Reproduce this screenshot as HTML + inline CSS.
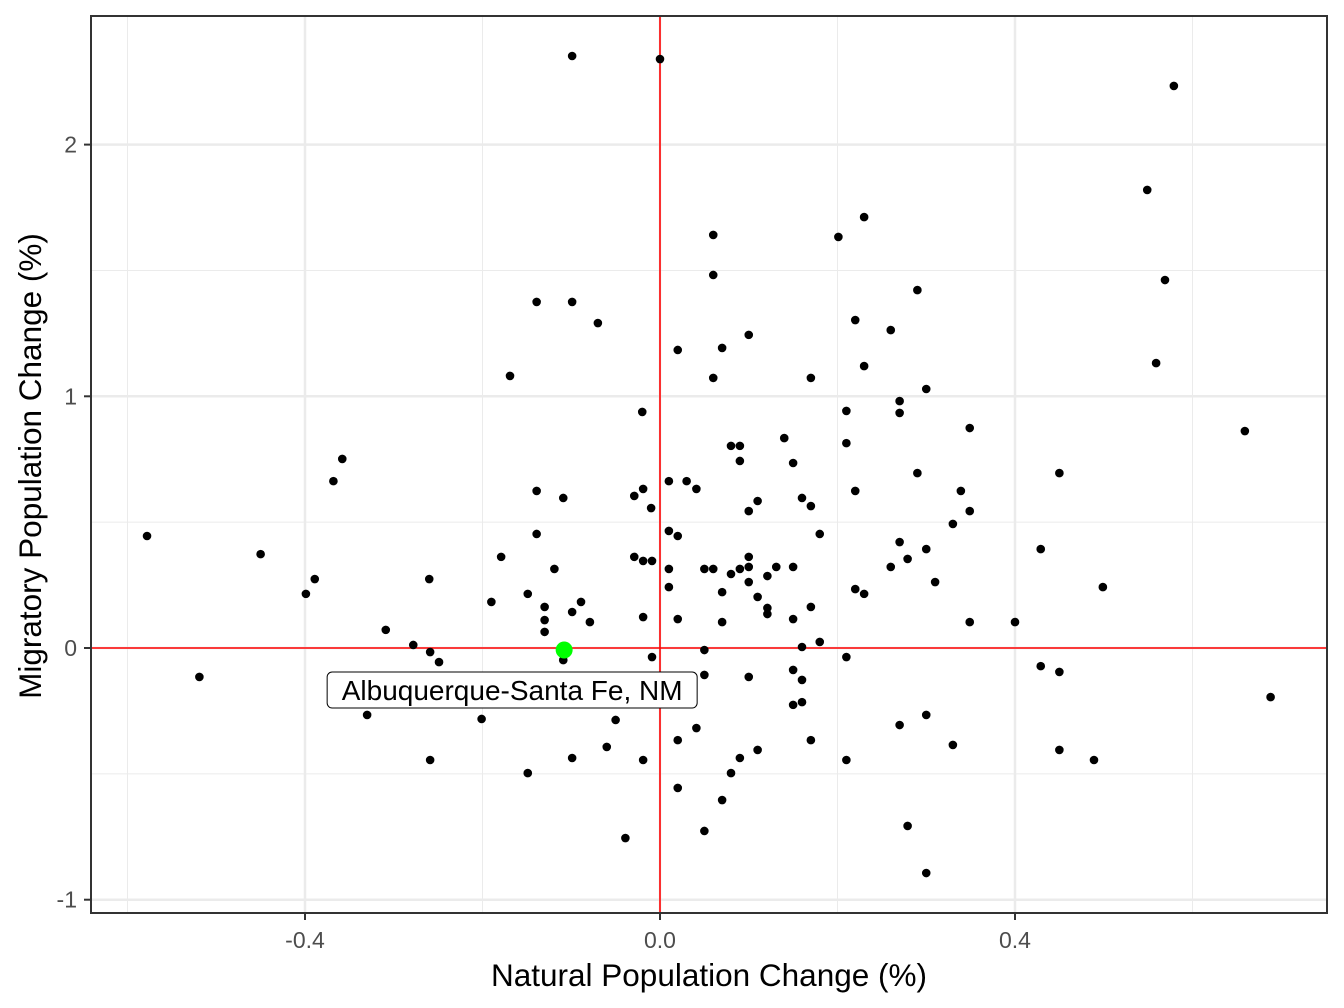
<!DOCTYPE html>
<html><head><meta charset="utf-8"><style>
body{margin:0;background:#fff;}
svg{display:block;font-family:"Liberation Sans",sans-serif;}
</style></head><body>
<svg id="chart" width="1344" height="1008" viewBox="0 0 1344 1008" xmlns="http://www.w3.org/2000/svg">
<rect x="0" y="0" width="1344" height="1008" fill="#fff"/>
<g id="grid"></g>
<g id="refs"></g>
<g id="pts"></g>
<g id="hl"></g>
<rect x="91" y="16" width="1236" height="897" fill="none" stroke="#333" stroke-width="2"/>
<g id="axes"></g>
<text x="709" y="986" font-size="31.5" text-anchor="middle" fill="#000">Natural Population Change (%)</text>
<text transform="translate(41,466) rotate(-90)" font-size="31.5" text-anchor="middle" fill="#000">Migratory Population Change (%)</text>
</svg>
<script>
const xTicks=[-0.4,0.0,0.4];
const xTickLabels=["-0.4","0.0","0.4"];
const xMinor=[-0.6,-0.2,0.2,0.6];
const yTicks=[-1,0,1,2];
const yTickLabels=["-1","0","1","2"];
const yMinor=[-0.5,0.5,1.5];
const xs=[-0.578,-0.519,-0.450,-0.399,-0.389,-0.368,-0.358,-0.330,-0.309,-0.278,-0.260,-0.259,-0.249,-0.259,-0.201,-0.190,-0.179,-0.169,-0.149,-0.149,-0.139,-0.139,-0.139,-0.130,-0.130,-0.130,-0.119,-0.109,-0.109,-0.099,-0.099,-0.099,-0.099,-0.089,-0.079,-0.070,-0.060,-0.050,-0.039,-0.029,-0.029,-0.020,-0.019,-0.019,-0.019,-0.019,-0.010,-0.009,-0.009,0,0.010,0.010,0.010,0.010,0.020,0.020,0.020,0.020,0.020,0.030,0.041,0.041,0.050,0.050,0.050,0.050,0.060,0.060,0.060,0.060,0.070,0.070,0.070,0.070,0.080,0.080,0.080,0.090,0.090,0.090,0.090,0.100,0.100,0.100,0.100,0.100,0.100,0.110,0.110,0.110,0.121,0.121,0.121,0.131,0.140,0.150,0.150,0.150,0.150,0.150,0.160,0.160,0.160,0.160,0.170,0.170,0.170,0.170,0.180,0.180,0.201,0.210,0.210,0.210,0.210,0.220,0.220,0.220,0.230,0.230,0.230,0.260,0.260,0.270,0.270,0.270,0.270,0.279,0.279,0.290,0.290,0.300,0.300,0.300,0.300,0.310,0.330,0.330,0.339,0.349,0.349,0.349,0.400,0.429,0.429,0.450,0.450,0.450,0.489,0.499,0.549,0.559,0.569,0.579,0.659,0.688];
const ys=[0.445,-0.115,0.373,0.215,0.274,0.663,0.751,-0.266,0.072,0.012,0.274,-0.016,-0.056,-0.445,-0.282,0.183,0.362,1.081,0.215,-0.497,1.375,0.624,0.453,0.163,0.111,0.064,0.314,0.596,-0.048,2.352,1.375,0.143,-0.437,0.183,0.103,1.291,-0.393,-0.286,-0.755,0.604,0.362,0.938,0.632,0.346,0.123,-0.445,0.556,0.346,-0.036,2.340,0.663,0.465,0.314,0.242,1.184,0.445,0.115,-0.366,-0.556,0.663,0.632,-0.318,0.314,-0.008,-0.107,-0.727,1.641,1.482,1.073,0.314,1.192,0.222,0.103,-0.604,0.803,0.294,-0.497,0.803,0.743,0.314,-0.437,1.244,0.544,0.362,0.322,0.262,-0.115,0.584,0.203,-0.405,0.286,0.159,0.135,0.322,0.834,0.735,0.322,0.115,-0.087,-0.226,0.596,0.004,-0.127,-0.215,1.073,0.564,0.163,-0.366,0.453,0.024,1.633,0.942,0.814,-0.036,-0.445,1.303,0.624,0.234,1.712,1.120,0.215,1.263,0.322,0.981,0.934,0.421,-0.306,0.354,-0.707,1.422,0.695,1.029,0.393,-0.266,-0.894,0.262,0.493,-0.385,0.624,0.874,0.544,0.103,0.103,0.393,-0.072,0.695,-0.095,-0.405,-0.445,0.242,1.820,1.132,1.462,2.233,0.862,-0.195];
const hlX=[-0.108];
const hlY=[-0.008];
const hlLabel=["Albuquerque-Santa Fe, NM"];

const X=v=>660+887.5*v;
const Y=v=>648-251.7*v;
const NS="http://www.w3.org/2000/svg";
function mk(tag,attrs,parent){const e=document.createElementNS(NS,tag);for(const k in attrs)e.setAttribute(k,attrs[k]);parent.appendChild(e);return e;}
const grid=document.getElementById('grid'),refs=document.getElementById('refs'),pts=document.getElementById('pts'),hl=document.getElementById('hl'),axes=document.getElementById('axes');

xMinor.forEach(v=>{const l=mk('line',{x1:X(v),x2:X(v),y1:16,y2:913,stroke:'#ebebeb','stroke-width':1},grid);

});
yMinor.forEach(v=>{const l=mk('line',{x1:91,x2:1327,y1:Y(v),y2:Y(v),stroke:'#ebebeb','stroke-width':1},grid);

});
xTicks.forEach((v,i)=>{const l=mk('line',{x1:X(v),x2:X(v),y1:16,y2:913,stroke:'#ebebeb','stroke-width':2.5},grid);


const t=mk('line',{x1:X(v),x2:X(v),y1:913,y2:920,stroke:'#333','stroke-width':2},axes);


const tx=mk('text',{x:X(v),y:948,'font-size':23,'text-anchor':'middle',fill:'#4d4d4d'},axes);
tx.textContent=xTickLabels[i];

});
yTicks.forEach((v,i)=>{const l=mk('line',{x1:91,x2:1327,y1:Y(v),y2:Y(v),stroke:'#ebebeb','stroke-width':2.5},grid);


const t=mk('line',{x1:84,x2:91,y1:Y(v),y2:Y(v),stroke:'#333','stroke-width':2},axes);


const tx=mk('text',{x:77,y:Y(v)+8,'font-size':23,'text-anchor':'end',fill:'#4d4d4d'},axes);
tx.textContent=yTickLabels[i];

});

const vr=mk('line',{x1:X(0),x2:X(0),y1:16,y2:913,stroke:'#ff0000','stroke-width':1.6},refs);


const hr=mk('line',{x1:91,x2:1327,y1:Y(0),y2:Y(0),stroke:'#ff0000','stroke-width':1.6},refs);



xs.forEach((v,i)=>{const c=mk('circle',{cx:X(v),cy:Y(ys[i]),r:4.3,fill:'#000'},pts);

});

hlX.forEach((v,i)=>{const c=mk('circle',{cx:X(v),cy:Y(hlY[i]),r:8.5,fill:'#00ff00'},hl);


const bx=X(v)-237,by=Y(hlY[i])+22;
const r=mk('rect',{x:bx,y:by,width:370,height:36,rx:5,fill:'#fff',stroke:'#000','stroke-width':1},hl);


const t=mk('text',{x:bx+185,y:by+28,'font-size':28,'text-anchor':'middle',fill:'#000'},hl);
t.textContent=hlLabel[i];

});
</script>
</body></html>
